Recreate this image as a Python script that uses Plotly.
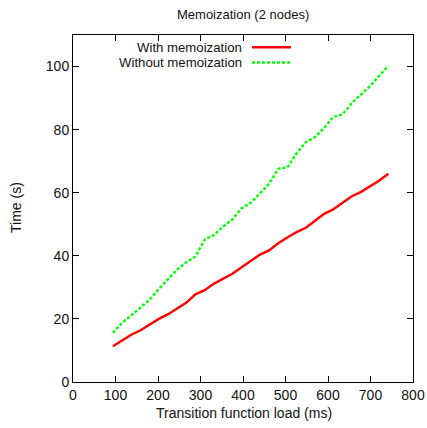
import plotly.graph_objects as go

load_ms = [94, 116, 137, 159, 180, 202, 224, 245, 267, 288, 310, 332, 353, 375, 396, 418,
           440, 461, 483, 504, 526, 548, 569, 591, 612, 634, 656, 677, 699, 720, 742]
with_memo = [11.3, 13.2, 15.0, 16.4, 18.2, 20.0, 21.5, 23.2, 25.2, 27.8, 29.1, 31.2, 32.8,
             34.3, 36.3, 38.4, 40.4, 41.7, 44.0, 45.8, 47.5, 48.9, 51.2, 53.3, 54.7, 56.9,
             58.9, 60.2, 62.0, 63.8, 66.0]
without_memo = [15.6, 18.8, 21.1, 23.6, 26.1, 29.5, 32.5, 35.6, 38.0, 39.8, 45.2, 46.6, 49.3,
                51.5, 55.0, 56.8, 59.8, 62.8, 67.6, 68.0, 72.5, 76.0, 77.6, 80.5, 84.0, 84.8,
                88.4, 91.0, 93.8, 97.0, 100.2]
series_names = ["With memoization", "Without memoization"]
x_ticks = [0, 100, 200, 300, 400, 500, 600, 700, 800]
y_ticks = [0, 20, 40, 60, 80, 100]

FONT = "Liberation Sans, Arial, sans-serif"
TXT = "#111"
fig = go.Figure()
fig.add_trace(go.Scatter(x=load_ms, y=with_memo, mode="lines", name=series_names[0],
                         line=dict(color="#ff0000", width=2.4), showlegend=False))
fig.add_trace(go.Scatter(x=load_ms, y=without_memo, mode="lines", name=series_names[1],
                         line=dict(color="#00ff00", width=2.4, dash="3px,2px"), showlegend=False))

W, H = 427, 428
L, R, T, B = 73, 14, 35, 46
pw, ph = W - L - R, H - T - B

def px2paper(px, py):
    return (px - L) / pw, (H - B - py) / ph

# manual gnuplot-style legend (text right-aligned, sample to the right)
for i, (name, color, dash) in enumerate([(series_names[0], "#ff0000", "solid"),
                                         (series_names[1], "#00ff00", "3px,2px")]):
    yc = 47.3 + 15.2 * i
    tx, ty = px2paper(243, yc)
    fig.add_annotation(x=tx, y=ty, xref="paper", yref="paper", text=name, showarrow=False,
                       xanchor="right", yanchor="middle", borderpad=0,
                       font=dict(family=FONT, size=13.2, color=TXT))
    x0, y0 = px2paper(252, yc)
    x1, _ = px2paper(291, yc)
    fig.add_shape(type="line", xref="paper", yref="paper", x0=x0, x1=x1, y0=y0, y1=y0,
                  line=dict(color=color, width=2.4, dash=dash))

# axis titles and chart title as annotations at fixed pixel positions
ax, ay = px2paper(244, 413)
fig.add_annotation(x=ax, y=ay, xref="paper", yref="paper", text="Transition function load (ms)",
                   showarrow=False, xanchor="center", yanchor="middle",
                   font=dict(family=FONT, size=14, color=TXT))
bx, by = px2paper(16, 208)
fig.add_annotation(x=bx, y=by, xref="paper", yref="paper", text="Time (s)", textangle=-90,
                   showarrow=False, xanchor="center", yanchor="middle",
                   font=dict(family=FONT, size=14, color=TXT))
cx, cy = px2paper(243, 14)
fig.add_annotation(x=cx, y=cy, xref="paper", yref="paper", text="Memoization (2 nodes)",
                   showarrow=False, xanchor="center", yanchor="middle",
                   font=dict(family=FONT, size=13, color=TXT))

axis_common = dict(showline=True, linecolor="black", linewidth=1, mirror="ticks",
                   ticks="inside", ticklen=6, tickcolor="black", showgrid=False,
                   zeroline=False, automargin=False,
                   tickfont=dict(family=FONT, size=14, color=TXT))
fig.update_layout(
    width=W, height=H,
    margin=dict(l=L, r=R, t=T, b=B, autoexpand=False),
    paper_bgcolor="white", plot_bgcolor="white",
    xaxis=dict(range=[0, 800], tickvals=x_ticks, **axis_common),
    yaxis=dict(range=[0, 110], tickvals=y_ticks, **axis_common),
)
fig.write_html("out.html", config={"displayModeBar": False},
               post_script="document.body.style.margin='0';document.body.style.overflow='hidden';")
